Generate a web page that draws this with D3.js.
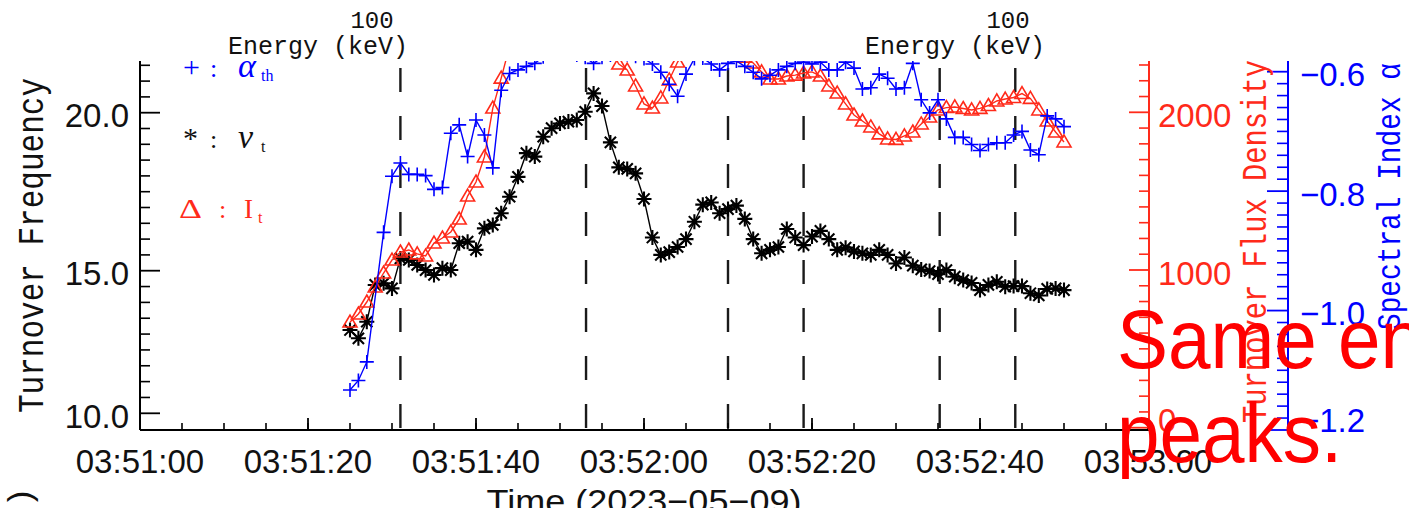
<!DOCTYPE html>
<html>
<head>
<meta charset="utf-8">
<script src="https://cdn.jsdelivr.net/npm/d3@7"></script>
<style>
  html, body { margin: 0; padding: 0; background: #fff; overflow: hidden; }
  svg { display: block; }
</style>
</head>
<body>
<svg id="chart" width="1409" height="508"></svg>
<script>
// ---- data -------------------------------------------------------------
// One sample per second, first sample at 03:51:25 UT on 2023-05-09
const sampleStart = "2023-05-09T03:51:25Z";
const axisStart = "2023-05-09T03:51:00Z";
const axisEnd = "2023-05-09T03:53:00Z";

// turnover frequency nu_t (GHz)
const nuT = [
  12.92, 12.63, 13.21, 14.50, 14.56, 14.38, 15.39, 15.34, 15.18, 15.02,
  14.85, 15.08, 15.02, 15.87, 15.92, 15.66, 16.34, 16.45, 16.82, 17.34,
  17.97, 18.72, 18.61, 19.24, 19.51, 19.66, 19.72, 19.77, 20.03, 20.61,
  20.21, 19.06, 18.27, 18.22, 18.08, 17.27, 16.05, 15.50, 15.59, 15.75,
  16.00, 16.55, 17.09, 17.16, 16.82, 16.95, 17.06, 16.64, 16.00, 15.55,
  15.66, 15.75, 16.32, 16.05, 15.81, 16.08, 16.26, 16.00, 15.66, 15.73,
  15.61, 15.55, 15.50, 15.66, 15.50, 15.23, 15.42, 15.16, 15.04, 14.99,
  14.88, 15.02, 14.79, 14.67, 14.57, 14.32, 14.50, 14.61, 14.44, 14.46,
  14.46, 14.21, 14.13, 14.36, 14.38, 14.32
];

// turnover flux density I_t (sfu)
const fluxT = [
  670, 721, 797, 892, 981, 1063, 1114, 1127, 1102, 1089,
  1171, 1203, 1241, 1323, 1469, 1558, 1717, 2027, 2217, 2420,
  2480, 2530, 2560, 2590, 2600, 2590, 2570, 2540, 2500, 2470,
  2440, 2400, 2306, 2268, 2167, 2053, 2027, 2091, 2205, 2319,
  2400, 2420, 2430, 2420, 2400, 2390, 2370, 2350, 2313, 2256,
  2211, 2211, 2230, 2236, 2249, 2256, 2230, 2167, 2122, 2053,
  1983, 1945, 1907, 1863, 1831, 1828, 1850, 1875, 1926, 1970,
  2015, 2030, 2034, 2024, 2015, 2025, 2043, 2072, 2084, 2094,
  2119, 2088, 2015, 1945, 1875, 1812
];

// spectral index alpha_th (null: no fit for that second)
const alphaTh = [
  -1.133, -1.117, -1.086, null, -0.869, -0.775, -0.753, -0.772, -0.772, -0.774,
  -0.797, -0.794, -0.703, -0.689, -0.742, -0.681, -0.706, -0.761, -0.631, -0.603,
  -0.597, -0.591, -0.586, -0.575, -0.570, -0.568, -0.570, -0.572, -0.576, -0.586,
  -0.576, -0.572, -0.570, -0.571, -0.574, -0.578, -0.587, -0.601, -0.621, -0.641,
  -0.604, -0.578, -0.577, -0.587, -0.597, -0.586, -0.582, -0.591, -0.601, -0.612,
  -0.606, -0.597, -0.591, -0.586, -0.584, -0.587, -0.584, -0.597, -0.597, -0.584,
  -0.594, -0.629, -0.627, -0.604, -0.611, -0.629, -0.627, -0.586, -0.647, -0.669,
  -0.647, -0.679, -0.710, -0.710, -0.722, -0.732, -0.722, -0.719, -0.719, -0.706,
  -0.700, -0.731, -0.739, -0.674, -0.679, -0.692
];

// times of the energy spectra shown in the panels above (dashed markers)
const spectrumTimes = [
  "2023-05-09T03:51:31.0Z", "2023-05-09T03:51:53.1Z", "2023-05-09T03:52:10.0Z",
  "2023-05-09T03:52:19.0Z", "2023-05-09T03:52:35.2Z", "2023-05-09T03:52:44.2Z"
];

const freqTicks = [10, 15, 20];
const fluxTicks = [0, 1000, 2000];
const alphaTicks = [-1.2, -1.0, -0.8, -0.6];

// ---- layout -----------------------------------------------------------
const plotL = 140, plotR = 1149, plotT = 61, plotB = 430;
const RED = "#ff2a1a", BLUE = "#0000ff";
const svg = d3.select("#chart");

const t0 = new Date(sampleStart);
const times = nuT.map((_, i) => new Date(t0.getTime() + i * 1000));

const x = d3.scaleUtc()
  .domain([new Date(axisStart), new Date(axisEnd)])
  .range([plotL, 1148]);
const yF = d3.scaleLinear().domain([10, 15, 20]).range([413.3, 270.7, 112.7]);
const yI = d3.scaleLinear().domain([0, 2000]).range([427.7, 112.3]);
const yA = d3.scaleLinear().domain([-1.2, -0.6]).range([430, 71.7]);

svg.append("defs").append("clipPath").attr("id", "plotClip")
  .append("rect").attr("x", plotL).attr("y", plotT)
  .attr("width", plotR - plotL).attr("height", plotB - plotT);

// ---- dashed spectrum markers ---------------------------------------------
const marks = svg.append("g").attr("clip-path", "url(#plotClip)");
marks.selectAll("line.spec").data(spectrumTimes).join("line")
  .attr("class", "spec")
  .attr("x1", d => x(new Date(d))).attr("x2", d => x(new Date(d)))
  .attr("y1", 68).attr("y2", plotB)
  .attr("stroke", "#1a1a1a").attr("stroke-width", 2.4)
  .attr("stroke-dasharray", "24,24");

// ---- series ---------------------------------------------------------------
const starPath = "M-7.5,0L7.5,0M0,-7.5L0,7.5M-5.6,-5.6L5.6,5.6M-5.6,5.6L5.6,-5.6";
const triPath = "M0,-7L7,5L-7,5Z";
const plusPath = "M-7,0L7,0M0,-7L0,7";

function drawSeries(values, yScale, color, symbol, width) {
  const pts = values.map((v, i) => ({ t: times[i], v })).filter(d => d.v !== null);
  const line = d3.line().x(d => x(d.t)).y(d => yScale(d.v));
  marks.append("path").datum(pts)
    .attr("d", line).attr("fill", "none")
    .attr("stroke", color).attr("stroke-width", 1.4);
  marks.append("g").selectAll("path").data(pts).join("path")
    .attr("transform", d => `translate(${x(d.t)},${yScale(d.v)})`)
    .attr("d", symbol).attr("fill", "none")
    .attr("stroke", color).attr("stroke-width", width);
}
drawSeries(nuT, yF, "#000", starPath, 2.1);
drawSeries(fluxT, yI, RED, triPath, 1.6);
drawSeries(alphaTh, yA, BLUE, plusPath, 1.6);

// ---- axes -----------------------------------------------------------------
const axes = svg.append("g");
const labelFont = "'Liberation Sans', Arial, sans-serif";

// bottom time axis
axes.append("line").attr("x1", plotL).attr("x2", plotR)
  .attr("y1", plotB).attr("y2", plotB).attr("stroke", "#000").attr("stroke-width", 2);
const minorT = d3.utcSecond.every(5).range(new Date(axisStart), new Date(new Date(axisEnd).getTime() + 1));
const majorT = d3.utcSecond.every(20).range(new Date(axisStart), new Date(new Date(axisEnd).getTime() + 1));
axes.selectAll("line.xminor").data(minorT).join("line").attr("class", "xminor")
  .attr("x1", d => x(d)).attr("x2", d => x(d))
  .attr("y1", plotB).attr("y2", plotB - 7).attr("stroke", "#000").attr("stroke-width", 1.6);
axes.selectAll("line.xmajor").data(majorT).join("line").attr("class", "xmajor")
  .attr("x1", d => x(d)).attr("x2", d => x(d))
  .attr("y1", plotB).attr("y2", plotB - 12).attr("stroke", "#000").attr("stroke-width", 1.8);
const fmt = d3.utcFormat("%H:%M:%S");
axes.selectAll("text.xlab").data(majorT).join("text").attr("class", "xlab")
  .attr("x", d => x(d)).attr("y", 473).attr("text-anchor", "middle")
  .attr("font-family", labelFont).attr("font-size", 33).attr("fill", "#111")
  .text(d => fmt(d));
axes.append("text").attr("x", 644).attr("y", 513).attr("text-anchor", "middle")
  .attr("font-family", labelFont).attr("font-size", 34).attr("fill", "#111")
  .attr("textLength", 315).attr("lengthAdjust", "spacingAndGlyphs")
  .text("Time (2023\u221205\u221209)");

// left frequency axis
axes.append("line").attr("x1", plotL).attr("x2", plotL)
  .attr("y1", plotT).attr("y2", plotB).attr("stroke", "#000").attr("stroke-width", 2);
const freqMinor = d3.range(1, 10).map(k => 15 - k * 5 / 9)
  .concat(d3.range(1, 14).map(k => 15 + k * 0.5))
  .filter(v => !freqTicks.includes(v) && yF(v) >= plotT && yF(v) < plotB - 2);
axes.selectAll("line.fminor").data(freqMinor).join("line").attr("class", "fminor")
  .attr("x1", plotL).attr("x2", plotL + 10)
  .attr("y1", d => yF(d)).attr("y2", d => yF(d)).attr("stroke", "#000").attr("stroke-width", 1.6);
axes.selectAll("line.fmajor").data(freqTicks).join("line").attr("class", "fmajor")
  .attr("x1", plotL).attr("x2", plotL + 20)
  .attr("y1", d => yF(d)).attr("y2", d => yF(d)).attr("stroke", "#000").attr("stroke-width", 1.8);
axes.selectAll("text.flab").data(freqTicks).join("text").attr("class", "flab")
  .attr("x", 129).attr("y", d => yF(d) + 3).attr("dy", "0.35em")
  .attr("text-anchor", "end").attr("font-family", labelFont).attr("font-size", 33)
  .attr("fill", "#111").text(d3.format(".1f"));

// right flux axis (red)
axes.append("line").attr("x1", plotR).attr("x2", plotR)
  .attr("y1", plotT).attr("y2", plotB).attr("stroke", RED).attr("stroke-width", 2);
const fluxMinor = d3.range(0, 2400, 100).filter(v => v % 1000 !== 0 && yI(v) >= plotT);
axes.selectAll("line.iminor").data(fluxMinor).join("line").attr("class", "iminor")
  .attr("x1", plotR - 10).attr("x2", plotR)
  .attr("y1", d => yI(d)).attr("y2", d => yI(d)).attr("stroke", RED).attr("stroke-width", 1.6);
axes.selectAll("line.imajor").data(fluxTicks).join("line").attr("class", "imajor")
  .attr("x1", plotR - 20).attr("x2", plotR)
  .attr("y1", d => yI(d)).attr("y2", d => yI(d)).attr("stroke", RED).attr("stroke-width", 1.8);
axes.selectAll("text.ilab").data(fluxTicks).join("text").attr("class", "ilab")
  .attr("x", 1158).attr("y", d => Math.min(yI(d) + 3, 420)).attr("dy", "0.35em")
  .attr("font-family", labelFont).attr("font-size", 33).attr("fill", RED)
  .text(d3.format("d"));

// right spectral index axis (blue)
const blueX = 1288;
axes.append("line").attr("x1", blueX).attr("x2", blueX)
  .attr("y1", plotT).attr("y2", plotB).attr("stroke", BLUE).attr("stroke-width", 2);
const alphaMinor = d3.range(0, 31).map(k => -1.2 + k * 0.02)
  .filter(v => yA(v) >= plotT && !alphaTicks.some(t => Math.abs(t - v) < 1e-6));
axes.selectAll("line.aminor").data(alphaMinor).join("line").attr("class", "aminor")
  .attr("x1", blueX - 11).attr("x2", blueX)
  .attr("y1", d => yA(d)).attr("y2", d => yA(d)).attr("stroke", BLUE).attr("stroke-width", 1.6);
axes.selectAll("line.amajor").data(alphaTicks).join("line").attr("class", "amajor")
  .attr("x1", blueX - 21).attr("x2", blueX)
  .attr("y1", d => yA(d)).attr("y2", d => yA(d)).attr("stroke", BLUE).attr("stroke-width", 1.8);
axes.selectAll("text.alab").data(alphaTicks).join("text").attr("class", "alab")
  .attr("x", 1300).attr("y", d => Math.min(yA(d) + 3, 420)).attr("dy", "0.35em")
  .attr("font-family", labelFont).attr("font-size", 33).attr("fill", BLUE)
  .text(d3.format(".1f"));

// ---- axis titles ------------------------------------------------------------
const serif = "'Liberation Serif', 'Times New Roman', serif";
const mono = "'Liberation Mono', 'Courier New', monospace";
function vTitle(tx, ty, len, size, color, str) {
  axes.append("text").attr("transform", `translate(${tx},${ty}) rotate(-90)`)
    .attr("font-family", mono).attr("font-size", size).attr("fill", color)
    .attr("textLength", len).attr("lengthAdjust", "spacingAndGlyphs").text(str);
}
vTitle(43, 413, 335, 36, "#111", "Turnover Frequency");
vTitle(1266, 423, 363, 35, RED, "Turnover Flux Density");
vTitle(1400, 330, 267, 33, BLUE, "Spectral Index \u03b1");
// title of the panel below, mostly outside the frame
axes.append("text").attr("transform", "translate(31,487) rotate(-90)")
  .attr("text-anchor", "end").attr("font-family", mono).attr("font-size", 34)
  .attr("fill", "#111").text("(sfu)");

// energy axis titles of the spectrum panels above
[[372, 318], [1008, 955]].forEach(([cx100, cxE]) => {
  axes.append("text").attr("x", cx100).attr("y", 28).attr("text-anchor", "middle")
    .attr("font-family", mono).attr("font-size", 24).attr("fill", "#111").text("100");
  axes.append("text").attr("x", cxE).attr("y", 54).attr("text-anchor", "middle")
    .attr("font-family", mono).attr("font-size", 25).attr("fill", "#111")
    .attr("textLength", 180).attr("lengthAdjust", "spacingAndGlyphs").text("Energy (keV)");
});

// ---- legend -------------------------------------------------------------------
const legend = svg.append("g").attr("clip-path", "url(#plotClip)").attr("font-family", serif);
function legendRow(y, color, sym, symSize, symDy, greek, sub) {
  legend.append("text").attr("x", 183).attr("y", y + symDy).attr("font-size", symSize)
    .attr("fill", color).text(sym);
  legend.append("text").attr("x", 210).attr("y", y).attr("font-size", 26)
    .attr("fill", color).text(":");
  legend.append("text").attr("x", 238).attr("y", y).attr("font-size", 34)
    .attr("font-style", "italic").attr("fill", color).text(greek);
  legend.append("text").attr("x", 261).attr("y", y + 4).attr("font-size", 16)
    .attr("fill", color).text(sub);
}
legendRow(77, BLUE, "+", 30, 0, "\u03b1", "th");
legendRow(148, "#111", "*", 30, 0, "\u03bd", "t");
legend.append("text").attr("x", 179).attr("y", 218).attr("font-size", 27)
  .attr("fill", RED).attr("textLength", 23).attr("lengthAdjust", "spacingAndGlyphs").text("\u0394");
legend.append("text").attr("x", 219).attr("y", 218).attr("font-size", 26).attr("fill", RED).text(":");
legend.append("text").attr("x", 244).attr("y", 218).attr("font-size", 27).attr("fill", RED).text("I");
legend.append("text").attr("x", 258).attr("y", 223).attr("font-size", 16).attr("fill", RED).text("t");

// ---- annotation -------------------------------------------------------------------
const note = svg.append("g").attr("transform", "translate(1117,0) scale(0.91,1)")
  .attr("font-family", labelFont).attr("font-size", 84).attr("fill", "#ff0000");
note.append("text").attr("x", 0).attr("y", 368).text("Same en");
note.append("text").attr("x", 0).attr("y", 462).text("peaks.");
</script>
</body>
</html>
